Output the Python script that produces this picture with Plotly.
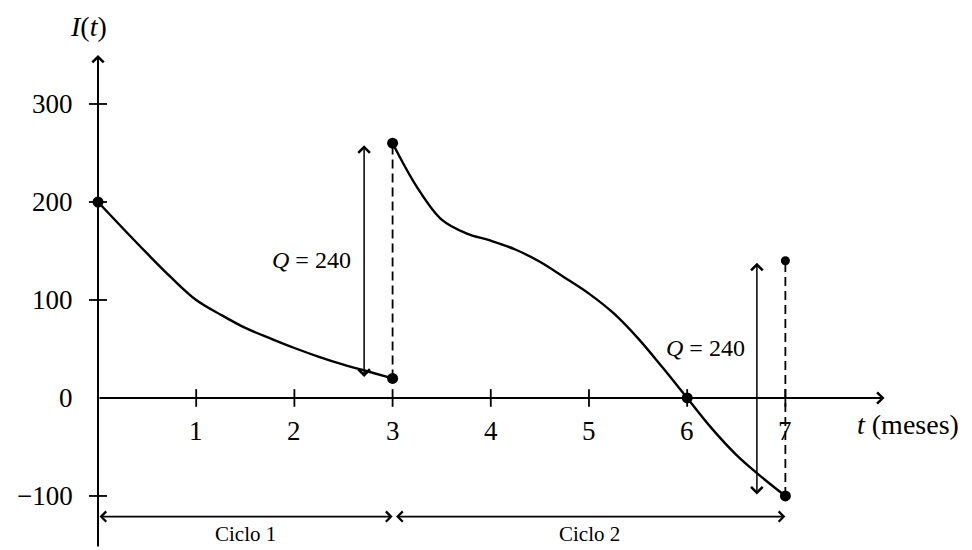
import plotly.graph_objects as go

# ---- data ----
c1_t = [0, 0.25, 0.5, 0.75, 1.0, 1.25, 1.5, 1.75, 2.0, 2.25, 2.5, 2.75, 3.0]
c1_I = [200, 173.5, 147.5, 122.5, 100, 85, 71.5, 61, 51, 42, 34, 27, 20]
c2_t = [3.0, 3.25, 3.5, 3.75, 4.0, 4.25, 4.5, 4.75, 5.0, 5.25, 5.5, 5.75, 6.0, 6.25, 6.5, 6.75, 7.0]
c2_I = [260, 215, 182, 168, 160.5, 151.5, 139, 123, 106.5, 86.5, 60.8, 31, 0, -31, -58, -80, -100]
big_dots_t = [0, 3, 3, 6, 7]
big_dots_I = [200, 260, 20, 0, -100]
small_dot_t = [7]
small_dot_I = [140]
x_ticks = [1, 2, 3, 4, 5, 6, 7]
y_ticks = [-100, 100, 200, 300]
y_tick_labels = ["−100", "0", "100", "200", "300"]
y_tick_label_vals = [-100, 0, 100, 200, 300]
orders = [  # (t, I_low, I_high) for Q arrows
    (2.71, 20, 258),
    (6.71, -100, 138),
]
dashed = [(3, 20, 260), (7, -100, 140)]
cycles = [("Ciclo 1", 0.0, 3.0), ("Ciclo 2", 3.02, 7.0)]
q_label = "<i>Q</i> = 240"

FONT = "Liberation Serif"
BLACK = "black"

fig = go.Figure()

fig.add_trace(go.Scatter(x=c1_t, y=c1_I, mode="lines",
                         line=dict(color=BLACK, width=2.4, shape="spline", smoothing=1.0),
                         hoverinfo="skip"))
fig.add_trace(go.Scatter(x=c2_t, y=c2_I, mode="lines",
                         line=dict(color=BLACK, width=2.4, shape="spline", smoothing=1.0),
                         hoverinfo="skip"))

# dashed vertical lines
for t, lo, hi in dashed:
    fig.add_trace(go.Scatter(x=[t, t], y=[lo, hi], mode="lines",
                             line=dict(color=BLACK, width=1.8, dash="9px,5px"),
                             hoverinfo="skip"))

fig.add_trace(go.Scatter(x=big_dots_t, y=big_dots_I, mode="markers",
                         marker=dict(color=BLACK, size=11), hoverinfo="skip"))
fig.add_trace(go.Scatter(x=small_dot_t, y=small_dot_I, mode="markers",
                         marker=dict(color=BLACK, size=9), hoverinfo="skip"))

shapes = []
# ticks
for t in x_ticks:
    shapes.append(dict(type="line", xref="x", yref="y", x0=t, x1=t, y0=-9, y1=9,
                       line=dict(color=BLACK, width=1.8)))
for v in y_ticks:
    shapes.append(dict(type="line", xref="x", yref="y", x0=-0.092, x1=0.092, y0=v, y1=v,
                       line=dict(color=BLACK, width=1.8)))

annotations = []


def arrow(x0, y0, x1, y1, both=False, width=1.8, size=1.0):
    d = dict(x=x1, y=y1, ax=x0, ay=y0, xref="x", yref="y", axref="x", ayref="y",
             text="", showarrow=True, arrowhead=4, arrowsize=size, arrowwidth=width,
             arrowcolor=BLACK, standoff=0, startstandoff=0)
    if both:
        d["arrowside"] = "end+start"
        d["startarrowhead"] = 4
        d["startarrowsize"] = size
    return d


# axes
annotations.append(arrow(0, 0, 8.01, 0, width=2.0, size=1.1))
annotations.append(arrow(0, -153, 0, 350, width=2.0, size=1.1))

# Q arrows
for t, lo, hi in orders:
    annotations.append(arrow(t, lo, t, hi, both=True, width=1.5, size=1.5))

# cycle arrows
for name, a, b in cycles:
    annotations.append(arrow(a, -121, b, -121, both=True, width=1.8, size=1.1))
    annotations.append(dict(x=(a + b) / 2, y=-139, xref="x", yref="y", text=name,
                            showarrow=False, font=dict(family=FONT, size=21, color=BLACK)))

# tick labels
for t in x_ticks:
    annotations.append(dict(x=t, y=-34, xref="x", yref="y", text=str(t), showarrow=False,
                            font=dict(family=FONT, size=27, color=BLACK)))
for lab, v in zip(y_tick_labels, y_tick_label_vals):
    annotations.append(dict(x=-0.234, y=v, xref="x", yref="y", text=lab, showarrow=False,
                            xanchor="right", font=dict(family=FONT, size=27, color=BLACK)))

# Q labels
annotations.append(dict(x=2.6, y=141, xref="x", yref="y", text=q_label, showarrow=False,
                        xanchor="right", font=dict(family=FONT, size=24, color=BLACK)))
annotations.append(dict(x=6.61, y=51, xref="x", yref="y", text=q_label, showarrow=False,
                        xanchor="right", font=dict(family=FONT, size=24, color=BLACK)))

# axis titles
annotations.append(dict(x=-0.1, y=379, xref="x", yref="y", text="<i>I</i>(<i>t</i>)",
                        showarrow=False, font=dict(family=FONT, size=28, color=BLACK)))
annotations.append(dict(x=7.71, y=-27.5, xref="x", yref="y", text="<i>t</i> (meses)",
                        showarrow=False, xanchor="left",
                        font=dict(family=FONT, size=28, color=BLACK)))

# the page adds an 8px body margin, so the ranges are shifted to compensate
fig.update_layout(
    width=972, height=550,
    margin=dict(l=0, r=0, t=0, b=0),
    paper_bgcolor="white", plot_bgcolor="white",
    showlegend=False,
    xaxis=dict(range=[-0.9165, 8.982], visible=False, fixedrange=True),
    yaxis=dict(range=[-163.3, 397.96], visible=False, fixedrange=True),
    shapes=shapes, annotations=annotations,
)

fig.write_html("out.html")
